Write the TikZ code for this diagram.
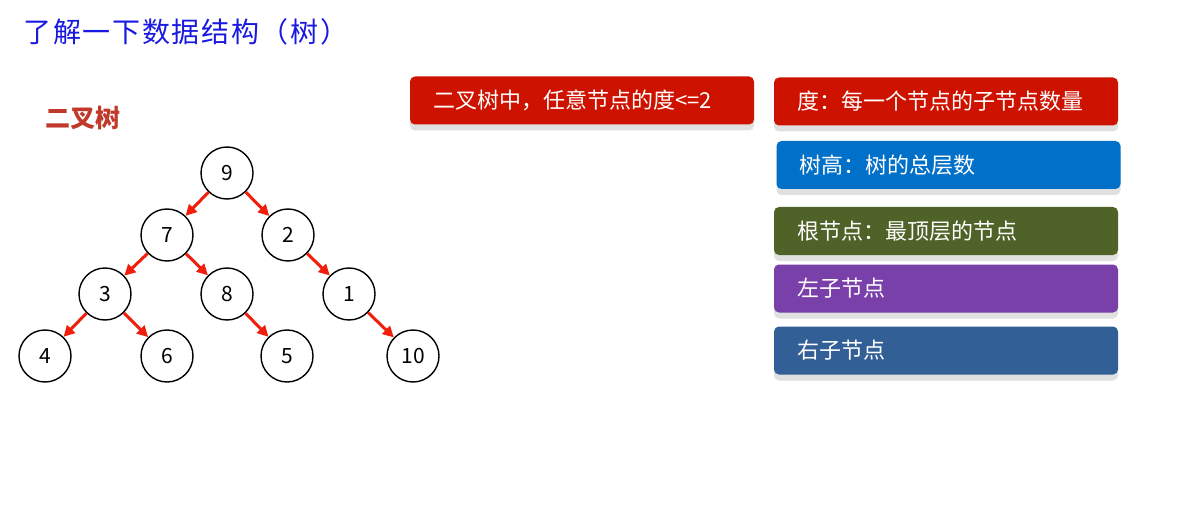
\documentclass[tikz,border=0pt]{standalone}
\usepackage{fontspec}
\setmainfont{Noto Sans CJK SC}
\usetikzlibrary{arrows.meta,shadows}
\definecolor{titleblue}{RGB}{25,25,225}
\definecolor{headred}{RGB}{192,57,43}
\definecolor{arrred}{RGB}{240,30,10}
\definecolor{boxred}{RGB}{206,18,0}
\definecolor{boxblue}{RGB}{0,112,200}
\definecolor{boxolive}{RGB}{79,98,40}
\definecolor{boxpurple}{RGB}{120,64,168}
\definecolor{boxsteel}{RGB}{50,96,150}
\tikzset{
  tnode/.style={circle,draw=black,line width=1.4pt,minimum size=52pt,inner sep=0pt,font=\fontsize{21}{23}\selectfont},
  arr/.style={draw=arrred,line width=3pt,-{Triangle[length=11pt,width=11pt]}},
  infobox/.style={rounded corners=5pt,minimum height=48pt,minimum width=344pt,
    text width=298pt,inner xsep=23pt,align=left,text=white,
    font=\fontsize{22}{24}\selectfont,
    drop shadow={shadow xshift=0pt,shadow yshift=-6pt,fill=black!12,opacity=1}},
}
\begin{document}
\begin{tikzpicture}[x=1pt,y=-1pt]
\useasboundingbox[fill=white] (0,0) rectangle (1198,521);
\node[anchor=west,text=titleblue,font=\fontsize{28}{30}\selectfont\addfontfeature{LetterSpace=6}] (title) at (20,32) {了解一下数据结构（树）};
\node[anchor=west,text=headred,font=\bfseries\fontsize{25}{27}\selectfont] (head) at (42,118) {二叉树};
% tree
\node[tnode] (n9) at (227,173) {9};
\node[tnode] (n7) at (167,235) {7};
\node[tnode] (n2) at (288,235) {2};
\node[tnode] (n3) at (105,294) {3};
\node[tnode] (n8) at (227,294) {8};
\node[tnode] (n1) at (349,294) {1};
\node[tnode] (n4) at (45,356) {4};
\node[tnode] (n6) at (167,356) {6};
\node[tnode] (n5) at (287,356) {5};
\node[tnode] (n10) at (413,356) {10};
\draw[arr] (n9) -- (n7);
\draw[arr] (n9) -- (n2);
\draw[arr] (n7) -- (n3);
\draw[arr] (n7) -- (n8);
\draw[arr] (n2) -- (n1);
\draw[arr] (n3) -- (n4);
\draw[arr] (n3) -- (n6);
\draw[arr] (n8) -- (n5);
\draw[arr] (n1) -- (n10);
% boxes
\node[infobox,fill=boxred] (bA) at (582,100.5) {二叉树中，任意节点的度<=2};
\node[infobox,fill=boxred] (bB) at (946,101.5) {度：每一个节点的子节点数量};
\node[infobox,fill=boxblue,minimum width=343pt] (bC) at (948.5,165) {树高：树的总层数};
\node[infobox,fill=boxolive] (bD) at (946,231) {根节点：最顶层的节点};
\node[infobox,fill=boxpurple] (bE) at (946,288.5) {左子节点};
\node[infobox,fill=boxsteel] (bF) at (946,350.5) {右子节点};
\end{tikzpicture}
\end{document}
